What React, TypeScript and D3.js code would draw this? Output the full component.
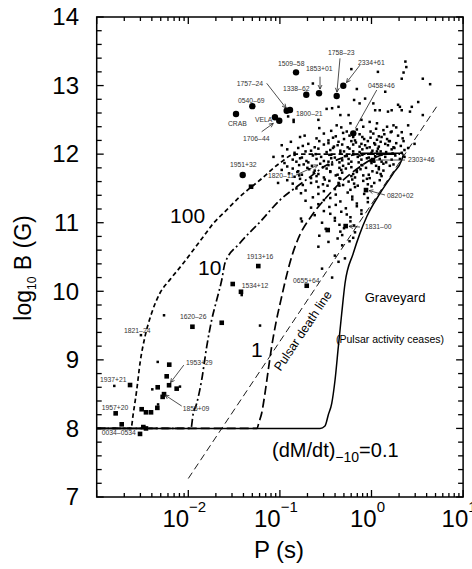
import React from 'react';
import * as d3 from 'd3';

const W = 472;
const H = 569;
const FONT = '"Liberation Sans", Arial, Helvetica, sans-serif';

// axis domains
const pDomain: [number, number] = [1e-3, 10];
const bDomain: [number, number] = [7, 14];
const xMajorExps = [-3, -2, -1, 0, 1];
const xLabelExps = [-2, -1, 0, 1];
const yLabelTicks = [7, 8, 9, 10, 11, 12, 13, 14];

// evolutionary tracks: [log10 P, log10 B]
const track100: number[][] = [
  [-3, 8], [-2.626, 8], [-2.6, 8.225], [-2.563, 8.56], [-2.527, 8.954], [-2.473, 9.338], [-2.4, 9.683],
  [-2.309, 9.975], [-2.2, 10.17], [-2.055, 10.408], [-1.945, 10.602], [-1.836, 10.796], [-1.727, 10.99],
  [-1.618, 11.137], [-1.436, 11.38], [-1.217, 11.623], [-0.999, 11.871], [-0.835, 12.0], [0.311, 12.0],
];
const track10: number[][] = [
  [-3, 8], [-1.971, 8], [-1.949, 8.196], [-1.908, 8.366], [-1.854, 8.706], [-1.799, 9.192], [-1.745, 9.581],
  [-1.69, 9.873], [-1.635, 10.165], [-1.599, 10.413], [-1.436, 10.704], [-1.217, 11.011], [-0.999, 11.331],
  [-0.835, 11.506], [-0.671, 11.667], [-0.508, 11.827], [-0.289, 11.958], [-0.126, 12.0], [0.311, 12.0],
];
const track1: number[][] = [
  [-3, 8], [-1.25, 8], [-1.228, 8.094], [-1.199, 8.221], [-1.163, 8.512], [-1.127, 8.852], [-1.09, 9.192],
  [-1.043, 9.543], [-0.988, 9.878], [-0.933, 10.198], [-0.868, 10.519], [-0.781, 10.825], [-0.671, 11.069],
  [-0.489, 11.375], [-0.308, 11.623], [-0.126, 11.817], [0.02, 11.94], [0.166, 12.0], [0.311, 12.0],
];
const track01Rise: number[][] = [
  [-3, 8], [-0.562, 8], [-0.508, 8.035], [-0.472, 8.196], [-0.434, 8.366], [-0.398, 8.706], [-0.362, 9.192],
  [-0.325, 9.679], [-0.289, 10.117], [-0.199, 10.554], [-0.13, 10.83], [-0.052, 11.087], [0.093, 11.428],
  [0.238, 11.72], [0.33, 11.914], [0.347, 11.987],
];
const track01Top: number[][] = [[0.347, 11.987], [0.342, 12.003], [0.325, 12.012], [-0.126, 12.012]];
const deathLine: number[][] = [[-2.0, 7.27], [0.72, 12.71]];

// young pulsars (large dots)
const youngPulsars: number[][] = [
  [-1.479, 12.585], [-1.301, 12.7], [-1.054, 12.537], [-1.007, 12.487], [-0.926, 12.633], [-0.89, 12.643],
  [-0.824, 13.193], [-0.712, 12.866], [-0.573, 12.887], [-0.38, 12.847], [-0.308, 12.998], [-0.199, 12.303],
  [-1.406, 11.695],
];

// binary pulsars (squares)
const binaryPulsars: number[][] = [
  [-1.315, 11.525], [0.016, 11.914], [-0.06, 11.476], [-0.282, 10.951], [-0.478, 10.893], [-0.707, 10.081],
  [-1.236, 10.368], [-1.425, 9.993], [-1.515, 10.106], [-1.955, 9.483], [-1.635, 9.541], [-2.636, 8.633],
  [-2.793, 8.22], [-2.727, 8.06], [-2.21, 8.63], [-2.28, 8.46], [-2.265, 8.5], [-2.509, 8.28], [-2.462, 8.235],
  [-2.407, 8.235], [-2.338, 8.3], [-2.334, 8.6], [-2.236, 8.76], [-2.208, 8.93], [-2.127, 8.58], [-2.527, 7.92],
  [-2.491, 8.02], [-2.462, 8.0],
];

// normal pulsars (small dots)
const normalPulsars: number[][] = [
  [-2.393, 8.57], [-2.334, 8.97], [-2.265, 9.65], [-2.517, 9.36], [-1.217, 9.5], [-1.417, 9.945], [-2.808, 8.62],
  [-2.091, 8.61], [-2.33, 8.35],
  [-0.64, 13.03], [-0.22, 13.24], [0.07, 13.2], [0.37, 13.35], [0.38, 13.27], [0.35, 13.19], [0.33, 13.1],
  [0.56, 13.1], [0.64, 13.02], [-0.16, 12.95], [0.15, 12.91], [-0.43, 12.67], [-0.49, 12.66], [-0.36, 12.69],
  [-0.19, 12.79], [-0.13, 12.74], [-0.07, 12.81], [0.02, 12.74], [0.04, 12.64], [0.09, 12.64], [0.18, 12.62],
  [0.22, 12.64], [0.29, 12.72], [0.31, 12.69], [0.33, 12.64], [0.42, 12.62], [0.44, 12.69], [0.51, 12.76],
  [0.4, 12.42], [0.56, 12.57], [-0.85, 12.5], [-0.78, 12.25], [-0.98, 12.13], [-0.58, 12.5], [-0.34, 12.57],
  [-0.25, 12.57], [-0.38, 12.42], [-0.23, 12.45], [-0.11, 12.5], [-0.02, 12.47], [0.06, 12.45], [0.17, 12.4],
  [0.24, 12.42], [0.22, 12.33], [-0.91, 12.55], [-0.85, 12.47], [-1.07, 11.96], [-1.02, 11.58],
  [-0.57, 12.38], [-0.44, 12.34], [-0.33, 12.39], [-0.27, 12.33], [-0.16, 12.36], [-0.09, 12.4], [-0.01, 12.33],
  [0.05, 12.37], [0.13, 12.35], [0.27, 12.39], [0.33, 12.32],
  [-0.73, 12.27], [-0.52, 12.3], [-0.39, 12.26], [-0.31, 12.31], [-0.24, 12.27], [-0.13, 12.29], [-0.1, 12.25],
  [0.02, 12.3], [0.08, 12.26], [0.14, 12.29], [0.21, 12.32], [0.29, 12.27], [0.43, 12.29],
  [-0.6, 12.23], [-0.47, 12.2], [-0.42, 12.24], [-0.3, 12.22], [-0.2, 12.25], [-0.18, 12.2], [-0.08, 12.22],
  [-0.01, 12.24], [0.06, 12.21], [0.11, 12.25], [0.17, 12.22], [0.2, 12.19], [0.34, 12.23],
  [-0.88, 12.18], [-0.69, 12.15], [-0.57, 12.19], [-0.47, 12.16], [-0.36, 12.18], [-0.32, 12.14], [-0.22, 12.19],
  [-0.17, 12.17], [-0.11, 12.15], [-0.04, 12.19], [0.03, 12.16], [0.1, 12.18], [0.15, 12.15], [0.19, 12.19],
  [0.27, 12.16], [0.35, 12.19], [0.47, 12.15],
  [-0.75, 12.12], [-0.62, 12.1], [-0.52, 12.14], [-0.41, 12.11], [-0.37, 12.13], [-0.26, 12.1], [-0.2, 12.14],
  [-0.13, 12.11], [-0.07, 12.13], [-0.02, 12.1], [0.04, 12.14], [0.08, 12.11], [0.18, 12.13], [0.24, 12.1],
  [0.32, 12.12],
  [-0.92, 12.07], [-0.8, 12.09], [-0.66, 12.05], [-0.58, 12.08], [-0.45, 12.06], [-0.42, 12.09], [-0.34, 12.05],
  [-0.24, 12.08], [-0.2, 12.04], [-0.1, 12.07], [-0.05, 12.09], [0.01, 12.05], [0.07, 12.08], [0.1, 12.04],
  [0.22, 12.07], [0.25, 12.09], [0.36, 12.06], [0.4, 12.09],
  [-0.84, 12.02], [-0.72, 12.04], [-0.61, 12.0], [-0.49, 12.03], [-0.46, 11.99], [-0.34, 12.02], [-0.3, 12.04],
  [-0.2, 12.0], [-0.13, 12.03], [-0.1, 11.99], [0.0, 12.02], [0.06, 12.04], [0.11, 12.0], [0.16, 12.03],
  [0.23, 12.01], [0.33, 12.02],
  [-0.97, 11.97], [-0.84, 11.99], [-0.76, 11.95], [-0.64, 11.98], [-0.55, 11.96], [-0.44, 11.99], [-0.4, 11.95],
  [-0.29, 11.97], [-0.27, 11.99], [-0.15, 11.96], [-0.13, 11.98], [-0.03, 11.95], [0.04, 11.97], [0.1, 11.99],
  [0.15, 11.96], [0.26, 11.98], [0.36, 11.96],
  [-0.86, 11.92], [-0.78, 11.94], [-0.71, 11.9], [-0.6, 11.93], [-0.52, 11.9], [-0.44, 11.94], [-0.32, 11.91],
  [-0.25, 11.93], [-0.22, 11.89], [-0.11, 11.92], [-0.05, 11.94], [-0.01, 11.9], [0.09, 11.93], [0.11, 11.89],
  [0.22, 11.92], [0.31, 11.93],
  [-0.95, 11.87], [-0.82, 11.89], [-0.74, 11.85], [-0.69, 11.88], [-0.56, 11.86], [-0.47, 11.89], [-0.43, 11.85],
  [-0.35, 11.88], [-0.25, 11.86], [-0.14, 11.88], [-0.11, 11.84], [0.0, 11.87], [0.03, 11.89], [0.13, 11.86],
  [0.16, 11.88], [0.24, 11.85],
  [-0.92, 11.82], [-0.79, 11.84], [-0.7, 11.8], [-0.65, 11.83], [-0.53, 11.81], [-0.47, 11.84], [-0.35, 11.8],
  [-0.31, 11.83], [-0.22, 11.81], [-0.1, 11.84], [-0.06, 11.8], [0.05, 11.83], [0.08, 11.81], [0.2, 11.83],
  [-0.98, 11.77], [-0.86, 11.79], [-0.8, 11.75], [-0.68, 11.78], [-0.62, 11.76], [-0.49, 11.79], [-0.45, 11.75],
  [-0.33, 11.77], [-0.28, 11.79], [-0.16, 11.76], [-0.12, 11.78], [0.01, 11.75], [0.08, 11.78], [0.13, 11.76],
  [-0.9, 11.72], [-0.81, 11.74], [-0.76, 11.7], [-0.63, 11.73], [-0.58, 11.71], [-0.45, 11.74], [-0.37, 11.7],
  [-0.32, 11.73], [-0.2, 11.71], [-0.16, 11.74], [-0.03, 11.7], [0.06, 11.73], [0.1, 11.71],
  [-0.84, 11.67], [-0.79, 11.69], [-0.66, 11.65], [-0.6, 11.68], [-0.52, 11.66], [-0.39, 11.69], [-0.35, 11.65],
  [-0.22, 11.68], [-0.18, 11.66], [-0.09, 11.69], [-0.02, 11.65], [0.11, 11.68],
  [-0.92, 11.62], [-0.78, 11.64], [-0.6, 11.6], [-0.51, 11.63], [-0.46, 11.61], [-0.34, 11.64], [-0.25, 11.6],
  [-0.21, 11.63], [-0.09, 11.61], [-0.05, 11.64], [0.09, 11.62],
  [-0.86, 11.57], [-0.75, 11.55], [-0.66, 11.58], [-0.53, 11.56], [-0.48, 11.54], [-0.36, 11.58], [-0.31, 11.55],
  [-0.19, 11.57], [-0.15, 11.54], [-0.04, 11.56], [0.03, 11.58],
  [-0.82, 11.5], [-0.72, 11.47], [-0.58, 11.52], [-0.52, 11.46], [-0.4, 11.49], [-0.35, 11.54], [-0.23, 11.48],
  [-0.18, 11.52], [-0.06, 11.47], [0.0, 11.53],
  [-0.77, 11.43], [-0.64, 11.37], [-0.58, 11.42], [-0.45, 11.36], [-0.39, 11.41], [-0.26, 11.44], [-0.21, 11.38],
  [-0.08, 11.42], [-0.04, 11.36],
  [-0.72, 11.32], [-0.58, 11.27], [-0.52, 11.33], [-0.39, 11.26], [-0.34, 11.31], [-0.21, 11.34], [-0.16, 11.28],
  [-0.04, 11.3],
  [-0.66, 11.22], [-0.52, 11.17], [-0.46, 11.23], [-0.33, 11.16], [-0.28, 11.21], [-0.16, 11.24], [-0.11, 11.18],
  [-0.62, 11.11], [-0.45, 11.13], [-0.4, 11.07], [-0.27, 11.12], [-0.23, 11.08], [-0.11, 11.13],
  [-0.54, 11.0], [-0.4, 11.03], [-0.35, 10.97], [-0.23, 11.02], [-0.19, 10.96],
  [-0.5, 10.91], [-0.34, 10.87], [-0.3, 10.92], [-0.18, 10.86],
  [-0.57, 10.81], [-0.37, 10.77], [-0.32, 10.82], [-0.2, 10.78],
  [-0.47, 10.72], [-0.32, 10.67], [-0.24, 10.73],
  [-0.4, 10.52], [-0.29, 10.48], [-0.58, 10.65], [-0.54, 10.33], [-0.36, 10.43], [-0.76, 11.02], [-0.77, 11.06],
  [-0.43, 10.2],
];

// pulsar name labels: [name, log10 P (left), log10 B (baseline)]
const nameLabels: [string, number, number][] = [
  ['1757\u201324', -1.472, 13.0], ['0540\u201369', -1.457, 12.753], ['CRAB', -1.567, 12.417],
  ['VELA', -1.272, 12.468], ['1706\u201344', -1.403, 12.198], ['1509\u201358', -1.021, 13.292],
  ['1853+01', -0.715, 13.219], ['1338\u201362', -0.966, 12.928], ['1758\u201323', -0.475, 13.453],
  ['2334+61', -0.147, 13.307], ['0458+46', -0.038, 12.971], ['1800\u201321', -0.824, 12.563],
  ['2303+46', 0.398, 11.892], ['1820\u201311', -1.13, 11.659], ['1951+32', -1.545, 11.819],
  ['0820+02', 0.169, 11.367], ['1831\u201300', -0.071, 10.908], ['1913+16', -1.362, 10.478],
  ['1534+12', -1.417, 10.055], ['0655+64', -0.857, 10.127], ['1620\u201326', -2.091, 9.595],
  ['1821\u201324', -2.702, 9.398], ['1953+29', -2.025, 8.932], ['1937+21', -2.964, 8.673],
  ['1855+09', -2.061, 8.261], ['1957+20', -2.945, 8.275], ['0034\u20130534', -2.945, 7.903],
];

// pointer lines: [fromLogP, fromB, toLogP, toB, arrowhead]
const pointers: number[][] = [
  [-1.144, 13.033, -0.933, 12.672, 1], [-0.562, 13.129, -0.562, 12.949, 1], [-0.344, 13.397, -0.377, 12.906, 1],
  [-0.126, 13.298, -0.273, 13.044, 1], [0.057, 12.935, -0.175, 12.381, 0], [-1.199, 12.327, -1.072, 12.449, 1],
  [-0.824, 11.695, -0.584, 11.841, 1], [0.366, 11.914, 0.049, 11.914, 0], [0.147, 11.404, -0.027, 11.469, 1],
  [-0.126, 10.937, -0.246, 10.947, 1], [-2.049, 8.924, -2.194, 8.669, 1], [-2.072, 8.326, -2.255, 8.487, 1],
];

export default function App() {
  const x = d3.scaleLog().domain(pDomain).range([96.7, 463.1]);
  const y = d3.scaleLinear().domain(bDomain).range([497, 17]);
  const px = (lp: number) => x(Math.pow(10, lp));
  const [x0, x1] = x.range();
  const [y0, y1] = y.range();

  const line = d3
    .line<number[]>()
    .x((d) => px(d[0]))
    .y((d) => y(d[1]))
    .curve(d3.curveMonotoneX);
  const straight = d3.line<number[]>().x((d) => px(d[0])).y((d) => y(d[1]));

  const xTicks = x.ticks();
  const yTicks = y.ticks(35);
  const isMajorX = (v: number) => xMajorExps.some((e) => Math.abs(Math.log10(v) - e) < 1e-6);
  const isMajorY = (v: number) => Math.abs(v - Math.round(v)) < 1e-6;

  const arrowHead = (p: number[]) => {
    const fx = px(p[0]), fy = y(p[1]), tx = px(p[2]), ty = y(p[3]);
    const a = Math.atan2(ty - fy, tx - fx);
    const L = 4.5, s = 0.45;
    const p1 = [tx - L * Math.cos(a - s), ty - L * Math.sin(a - s)];
    const p2 = [tx - L * Math.cos(a + s), ty - L * Math.sin(a + s)];
    return `M${p1[0]},${p1[1]}L${tx},${ty}L${p2[0]},${p2[1]}`;
  };

  const deathAngle =
    (Math.atan2(y(deathLine[1][1]) - y(deathLine[0][1]), px(deathLine[1][0]) - px(deathLine[0][0])) * 180) /
    Math.PI;
  const dlx = px(-0.71);
  const dly = y(9.39);

  return (
    <svg
      width={W}
      height={H}
      style={{ position: 'absolute', left: 0, top: 0, background: '#fff' }}
      fontFamily={FONT}
    >
      <rect x={0} y={0} width={W} height={H} fill="#fff" />
      {/* tracks */}
      <g fill="none" stroke="#000">
        <path d={line(track100) || ''} strokeWidth={1.7} strokeDasharray="4.5,3" />
        <path d={line(track10) || ''} strokeWidth={1.7} strokeDasharray="8,3,2,3" />
        <path d={line(track1) || ''} strokeWidth={1.7} strokeDasharray="9,4" />
        <path d={line(track01Rise) || ''} strokeWidth={1.5} />
        <path d={straight(track01Top) || ''} strokeWidth={1.5} strokeLinejoin="round" />
        <path d={straight(deathLine) || ''} strokeWidth={0.9} strokeDasharray="7,4" />
      </g>

      {/* pulsars */}
      <g fill="#000">
        {normalPulsars.map((d, i) => (
          <rect key={i} x={px(d[0]) - 1.25} y={y(d[1]) - 1.25} width={2.5} height={2.5} />
        ))}
        {binaryPulsars.map((d, i) => (
          <rect key={'b' + i} x={px(d[0]) - 2.3} y={y(d[1]) - 2.3} width={4.6} height={4.6} />
        ))}
        {youngPulsars.map((d, i) => (
          <circle key={'y' + i} cx={px(d[0])} cy={y(d[1])} r={3.2} />
        ))}
      </g>

      {/* pointers */}
      <g fill="none" stroke="#222" strokeWidth={0.8}>
        {pointers.map((p, i) => (
          <g key={i}>
            <line x1={px(p[0])} y1={y(p[1])} x2={px(p[2])} y2={y(p[3])} />
            {p[4] ? <path d={arrowHead(p)} /> : null}
          </g>
        ))}
      </g>

      {/* names */}
      <g fontSize={6.8} fill="#333">
        {nameLabels.map((l, i) => (
          <text key={i} x={px(l[1])} y={y(l[2])}>
            {l[0]}
          </text>
        ))}
      </g>

      {/* track labels */}
      <g fill="#000">
        <text x={px(-2.199)} y={y(10.995)} fontSize={21}>100</text>
        <text x={px(-1.894)} y={y(10.237)} fontSize={21}>10</text>
        <text x={px(-1.315)} y={y(9.041)} fontSize={21}>1</text>
        <text x={px(0.257)} y={y(9.843)} fontSize={13} textAnchor="middle">Graveyard</text>
        <text x={px(0.202)} y={y(9.245)} fontSize={10.5} textAnchor="middle">(Pulsar activity ceases)</text>
        <text x={dlx} y={dly} fontSize={12.5} textAnchor="middle" transform={`rotate(${deathAngle},${dlx},${dly})`}>
          Pulsar death line
        </text>
        <text x={px(-1.086)} y={y(7.59)} fontSize={20}>
          (dM/dt)
          <tspan fontSize={14} dy={5}>{'\u221210'}</tspan>
          <tspan dy={-5}>=0.1</tspan>
        </text>
      </g>

      {/* frame and ticks */}
      <g stroke="#000" strokeWidth={1.3}>
        <rect x={x0} y={y1} width={x1 - x0} height={y0 - y1} fill="none" strokeWidth={1.5} />
        {xTicks.map((v, i) => {
          const L = isMajorX(v) ? 7 : 4;
          const xx = x(v);
          return (
            <g key={i}>
              <line x1={xx} x2={xx} y1={y0} y2={y0 - L} />
              <line x1={xx} x2={xx} y1={y1} y2={y1 + L} />
            </g>
          );
        })}
        {yTicks.map((v, i) => {
          const L = isMajorY(v) ? 7 : 5;
          const yy = y(v);
          return (
            <g key={i}>
              <line x1={x0} x2={x0 + L} y1={yy} y2={yy} />
              <line x1={x1} x2={x1 - L} y1={yy} y2={yy} />
            </g>
          );
        })}
      </g>

      {/* tick labels */}
      <g fill="#000">
        {yLabelTicks.map((v) => (
          <text key={v} x={79} y={y(v) + 8.3} fontSize={24} textAnchor="end">
            {v}
          </text>
        ))}
        {xLabelExps.map((e) => (
          <text key={e} x={px(e) - 4} y={527} fontSize={24} textAnchor="middle">
            10
            <tspan fontSize={15} dy={-15}>{e < 0 ? '\u2212' + Math.abs(e) : String(e)}</tspan>
          </text>
        ))}
      </g>

      {/* axis titles */}
      <text x={279} y={558} fontSize={24} textAnchor="middle">P (s)</text>
      <text x={31} y={268} fontSize={23} textAnchor="middle" transform="rotate(-90,31,268)">
        log
        <tspan fontSize={12} dy={5}>10</tspan>
        <tspan dy={-5}> B (G)</tspan>
      </text>
    </svg>
  );
}
